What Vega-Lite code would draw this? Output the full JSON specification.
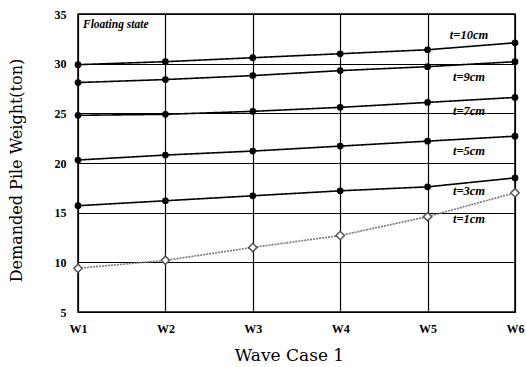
{
  "$schema": "https://vega.github.io/schema/vega-lite/v6.json",
  "width": 437,
  "height": 298,
  "autosize": "none",
  "padding": {"left": 78, "top": 14, "right": 11, "bottom": 55},
  "background": "white",
  "config": {
    "view": {"stroke": "black", "strokeWidth": 1.5},
    "font": "Liberation Serif"
  },
  "datasets": {
    "series": [
      {"w": "W1", "t": "t=10cm", "v": 29.9}, {"w": "W2", "t": "t=10cm", "v": 30.2}, {"w": "W3", "t": "t=10cm", "v": 30.6},
      {"w": "W4", "t": "t=10cm", "v": 31.0}, {"w": "W5", "t": "t=10cm", "v": 31.4}, {"w": "W6", "t": "t=10cm", "v": 32.1},
      {"w": "W1", "t": "t=9cm", "v": 28.1}, {"w": "W2", "t": "t=9cm", "v": 28.4}, {"w": "W3", "t": "t=9cm", "v": 28.8},
      {"w": "W4", "t": "t=9cm", "v": 29.3}, {"w": "W5", "t": "t=9cm", "v": 29.7}, {"w": "W6", "t": "t=9cm", "v": 30.2},
      {"w": "W1", "t": "t=7cm", "v": 24.8}, {"w": "W2", "t": "t=7cm", "v": 24.9}, {"w": "W3", "t": "t=7cm", "v": 25.2},
      {"w": "W4", "t": "t=7cm", "v": 25.6}, {"w": "W5", "t": "t=7cm", "v": 26.1}, {"w": "W6", "t": "t=7cm", "v": 26.6},
      {"w": "W1", "t": "t=5cm", "v": 20.3}, {"w": "W2", "t": "t=5cm", "v": 20.8}, {"w": "W3", "t": "t=5cm", "v": 21.2},
      {"w": "W4", "t": "t=5cm", "v": 21.7}, {"w": "W5", "t": "t=5cm", "v": 22.2}, {"w": "W6", "t": "t=5cm", "v": 22.7},
      {"w": "W1", "t": "t=3cm", "v": 15.7}, {"w": "W2", "t": "t=3cm", "v": 16.2}, {"w": "W3", "t": "t=3cm", "v": 16.7},
      {"w": "W4", "t": "t=3cm", "v": 17.2}, {"w": "W5", "t": "t=3cm", "v": 17.6}, {"w": "W6", "t": "t=3cm", "v": 18.5},
      {"w": "W1", "t": "t=1cm", "v": 9.4}, {"w": "W2", "t": "t=1cm", "v": 10.2}, {"w": "W3", "t": "t=1cm", "v": 11.5},
      {"w": "W4", "t": "t=1cm", "v": 12.7}, {"w": "W5", "t": "t=1cm", "v": 14.6}, {"w": "W6", "t": "t=1cm", "v": 17.0}
    ],
    "labels": [
      {"w": "W6", "t": "t=10cm", "v": 32.9},
      {"w": "W6", "t": "t=9cm", "v": 28.65},
      {"w": "W6", "t": "t=7cm", "v": 25.2},
      {"w": "W6", "t": "t=5cm", "v": 21.2},
      {"w": "W6", "t": "t=3cm", "v": 17.2},
      {"w": "W6", "t": "t=1cm", "v": 14.35}
    ],
    "note": [{"w": "W1", "v": 33.9, "text": "Floating state"}]
  },
  "encoding": {
    "x": {
      "field": "w", "type": "ordinal",
      "scale": {"type": "point", "padding": 0, "domain": ["W1", "W2", "W3", "W4", "W5", "W6"]},
      "axis": {
        "title": "Wave Case 1", "titleFont": "DejaVu Serif", "titleFontSize": 17, "titleFontWeight": "normal",
        "titleColor": "black", "titlePadding": 13, "titleX": 211,
        "labelFont": "Liberation Serif", "labelFontSize": 12, "labelFontWeight": "bold", "labelColor": "black",
        "labelPadding": 11, "labelAngle": 0,
        "ticks": false, "domain": false,
        "grid": true, "gridColor": "black", "gridOpacity": 1, "gridWidth": 1.2
      }
    },
    "y": {
      "field": "v", "type": "quantitative",
      "scale": {"domain": [5, 35], "nice": false, "zero": false},
      "axis": {
        "title": "Demanded Pile Weight(ton)", "titleFont": "DejaVu Serif", "titleFontSize": 16, "titleFontWeight": "normal",
        "titleColor": "black", "titleX": -62, "titleY": 156, "titleAlign": "center", "titleBaseline": "middle",
        "values": [5, 10, 15, 20, 25, 30, 35],
        "labelFont": "Liberation Serif", "labelFontSize": 12, "labelFontWeight": "bold", "labelColor": "black",
        "labelPadding": 12,
        "ticks": false, "domain": false,
        "grid": true, "gridColor": "black", "gridOpacity": 1, "gridWidth": 1.2
      }
    }
  },
  "layer": [
    {
      "data": {"name": "series"},
      "mark": {"type": "line", "strokeWidth": 1.6},
      "encoding": {
        "detail": {"field": "t"},
        "color": {
          "field": "t", "type": "nominal", "legend": null,
          "scale": {"domain": ["t=10cm", "t=9cm", "t=7cm", "t=5cm", "t=3cm", "t=1cm"],
                    "range": ["black", "black", "black", "black", "black", "#777777"]}
        },
        "strokeDash": {
          "field": "t", "type": "nominal", "legend": null,
          "scale": {"domain": ["t=10cm", "t=9cm", "t=7cm", "t=5cm", "t=3cm", "t=1cm"],
                    "range": [[1, 0], [1, 0], [1, 0], [1, 0], [1, 0], [2, 1]]}
        }
      }
    },
    {
      "data": {"name": "series"},
      "transform": [{"filter": "datum.t !== 't=1cm'"}],
      "mark": {"type": "point", "shape": "circle", "filled": true, "color": "black", "size": 45, "opacity": 1}
    },
    {
      "data": {"name": "series"},
      "transform": [{"filter": "datum.t === 't=1cm'"}],
      "mark": {"type": "point", "shape": "diamond", "filled": true, "fill": "white", "stroke": "#555555", "strokeWidth": 1.5, "size": 70, "opacity": 1}
    },
    {
      "data": {"name": "labels"},
      "mark": {"type": "text", "font": "Liberation Serif", "fontSize": 12.5, "fontStyle": "italic", "fontWeight": "bold", "align": "center", "baseline": "middle", "dx": -46, "color": "black"},
      "encoding": {"text": {"field": "t"}}
    },
    {
      "data": {"name": "note"},
      "mark": {"type": "text", "font": "Liberation Serif", "fontSize": 11.5, "fontStyle": "italic", "fontWeight": "bold", "align": "left", "baseline": "middle", "dx": 5, "color": "black"},
      "encoding": {"text": {"field": "text"}}
    }
  ]
}
